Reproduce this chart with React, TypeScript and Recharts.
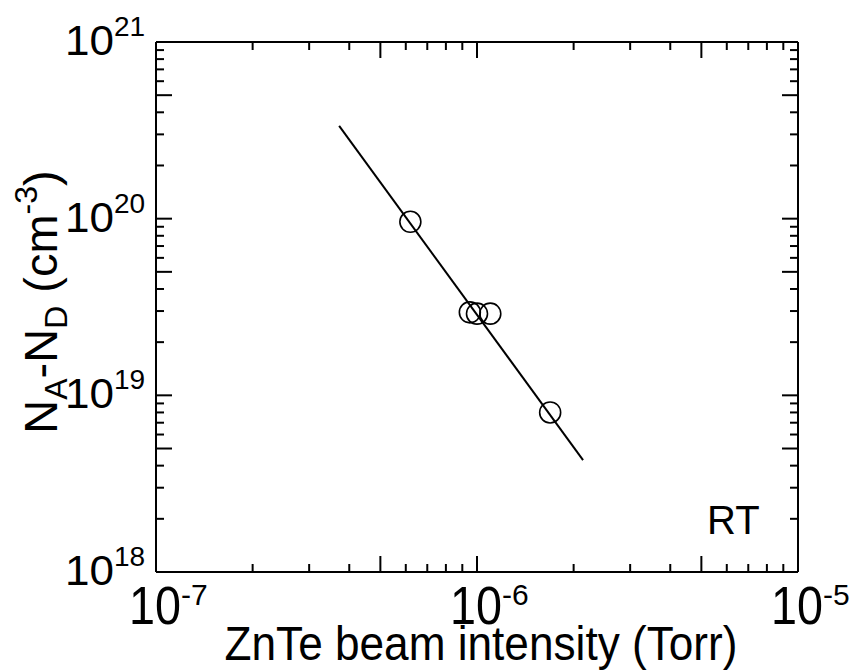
import { Scatter, ScatterChart, XAxis, YAxis } from "recharts";

// Axis decades and their exponent labels
const X_DECADES = [1e-7, 1e-6, 1e-5];
const X_EXPONENTS = ["-7", "-6", "-5"];
const Y_DECADES = [1e18, 1e19, 1e20, 1e21];
const Y_EXPONENTS = ["18", "19", "20", "21"];
const MINOR_STEPS = [1, 2, 3, 4, 5, 6, 7, 8, 9];

// Measured points (ZnTe beam intensity in Torr, NA-ND in cm^-3)
const beamIntensity = [6.2e-7, 9.5e-7, 1.0e-6, 1.1e-6, 1.69e-6];
const carrierConc = [9.6e19, 2.95e19, 2.9e19, 2.9e19, 8.0e18];

// Fitted line end points
const fitIntensity = [3.72e-7, 2.14e-6];
const fitConc = [3.35e20, 4.3e18];

const FONT = "'Liberation Sans', Arial, Helvetica, sans-serif";
const W = 854;
const H = 671;
const LONG_TICK = 16;
const SHORT_TICK = 8;

const pointRows = beamIntensity.map((x, i) => ({ x, y: carrierConc[i] }));
const fitRows = fitIntensity.map((x, i) => ({ x, y: fitConc[i] }));

function logTicks(decades: number[]): number[] {
  const out: number[] = [];
  decades.forEach((d, i) => {
    if (i === decades.length - 1) {
      out.push(d);
      return;
    }
    MINOR_STEPS.forEach((m) => out.push(m * d));
  });
  return out;
}
const X_TICKS = logTicks(X_DECADES);
const Y_TICKS = logTicks(Y_DECADES);

function mantissa(v: number): number {
  const e = Math.floor(Math.log10(v) + 1e-9);
  return v / Math.pow(10, e);
}
// decades and the 5x ticks are drawn longer
function isLong(v: number): boolean {
  const m = mantissa(v);
  return Math.abs(m - 1) < 1e-6 || Math.abs(m - 5) < 1e-6;
}
function decadeIndex(v: number, decades: number[]): number {
  return decades.findIndex((d) => Math.abs(v / d - 1) < 1e-6);
}

type TickProps = { x?: number; y?: number; payload?: { value: number } };

function BottomTick({ x = 0, y = 0, payload }: TickProps) {
  const v = payload?.value ?? 1;
  const len = isLong(v) ? LONG_TICK : SHORT_TICK;
  const idx = decadeIndex(v, X_DECADES);
  return (
    <g>
      <line x1={x} x2={x} y1={y} y2={y - len} stroke="#000" strokeWidth={2} />
      {idx >= 0 && (
        <text fontFamily={FONT} fill="#000">
          <tspan x={x - 27} y={y + 52} fontSize={54} textLength={52} lengthAdjust="spacingAndGlyphs">
            10
          </tspan>
          <tspan x={x + 25} y={y + 33} fontSize={30}>
            {X_EXPONENTS[idx]}
          </tspan>
        </text>
      )}
    </g>
  );
}

function TopTick({ x = 0, y = 0, payload }: TickProps) {
  const v = payload?.value ?? 1;
  const len = isLong(v) ? LONG_TICK : SHORT_TICK;
  return <line x1={x} x2={x} y1={y} y2={y + len} stroke="#000" strokeWidth={2} />;
}

function LeftTick({ x = 0, y = 0, payload }: TickProps) {
  const v = payload?.value ?? 1;
  const len = isLong(v) ? LONG_TICK : SHORT_TICK;
  const idx = decadeIndex(v, Y_DECADES);
  return (
    <g>
      <line x1={x} x2={x + len} y1={y} y2={y} stroke="#000" strokeWidth={2} />
      {idx >= 0 && (
        <text fontFamily={FONT} fill="#000">
          <tspan x={x - 91} y={y + 13} fontSize={42} textLength={49} lengthAdjust="spacingAndGlyphs">
            10
          </tspan>
          <tspan x={x - 42} y={y - 6} fontSize={28}>
            {Y_EXPONENTS[idx]}
          </tspan>
        </text>
      )}
    </g>
  );
}

function RightTick({ x = 0, y = 0, payload }: TickProps) {
  const v = payload?.value ?? 1;
  const len = isLong(v) ? LONG_TICK : SHORT_TICK;
  return <line x1={x} x2={x - len} y1={y} y2={y} stroke="#000" strokeWidth={2} />;
}

function OpenCircle(props: { cx?: number; cy?: number }) {
  const { cx = 0, cy = 0 } = props;
  return <circle cx={cx} cy={cy} r={10.5} fill="none" stroke="#000" strokeWidth={1.6} />;
}

function NoShape() {
  return <g />;
}

const axisLine = { stroke: "#000", strokeWidth: 2 };

export default function App() {
  return (
    <div style={{ position: "absolute", left: 0, top: 0, width: W, height: H, background: "#fff" }}>
      <ScatterChart width={W} height={H} margin={{ top: 0, right: 0, bottom: 0, left: 0 }}>
        <XAxis
          type="number"
          dataKey="x"
          scale="log"
          domain={[1e-7, 1e-5]}
          allowDataOverflow
          ticks={X_TICKS}
          interval={0}
          height={99}
          tickSize={0}
          tickMargin={0}
          tickLine={false}
          axisLine={axisLine}
          tick={(p: TickProps) => <BottomTick {...p} />}
        />
        <XAxis
          xAxisId="top"
          orientation="top"
          type="number"
          dataKey="x"
          scale="log"
          domain={[1e-7, 1e-5]}
          allowDataOverflow
          ticks={X_TICKS}
          interval={0}
          height={42}
          tickSize={0}
          tickMargin={0}
          tickLine={false}
          axisLine={axisLine}
          tick={(p: TickProps) => <TopTick {...p} />}
        />
        <YAxis
          type="number"
          dataKey="y"
          scale="log"
          domain={[1e18, 1e21]}
          allowDataOverflow
          ticks={Y_TICKS}
          interval={0}
          width={156}
          tickSize={0}
          tickMargin={0}
          tickLine={false}
          axisLine={axisLine}
          tick={(p: TickProps) => <LeftTick {...p} />}
        />
        <YAxis
          yAxisId="right"
          orientation="right"
          type="number"
          dataKey="y"
          scale="log"
          domain={[1e18, 1e21]}
          allowDataOverflow
          ticks={Y_TICKS}
          interval={0}
          width={56}
          tickSize={0}
          tickMargin={0}
          tickLine={false}
          axisLine={axisLine}
          tick={(p: TickProps) => <RightTick {...p} />}
        />
        <Scatter
          data={fitRows}
          line={{ stroke: "#000", strokeWidth: 2 }}
          shape={<NoShape />}
          isAnimationActive={false}
        />
        <Scatter data={pointRows} shape={<OpenCircle />} isAnimationActive={false} />
      </ScatterChart>
      <svg
        width={W}
        height={H}
        style={{ position: "absolute", left: 0, top: 0, pointerEvents: "none" }}
      >
        <text
          x={481}
          y={660}
          fontFamily={FONT}
          fontSize={48}
          textAnchor="middle"
          textLength={513}
          lengthAdjust="spacingAndGlyphs"
          fill="#000"
        >
          ZnTe beam intensity (Torr)
        </text>
        <text
          transform="translate(57,302) rotate(-90)"
          fontFamily={FONT}
          fontSize={47}
          textAnchor="middle"
          fill="#000"
        >
          N<tspan fontSize={32} dy={10}>A</tspan>
          <tspan dy={-10}>-N</tspan>
          <tspan fontSize={32} dy={10}>D</tspan>
          <tspan dy={-10}> (cm</tspan>
          <tspan fontSize={32} dy={-20}>-3</tspan>
          <tspan dy={20}>)</tspan>
        </text>
        <text x={707} y={534} fontFamily={FONT} fontSize={40} fill="#000">
          RT
        </text>
      </svg>
    </div>
  );
}
